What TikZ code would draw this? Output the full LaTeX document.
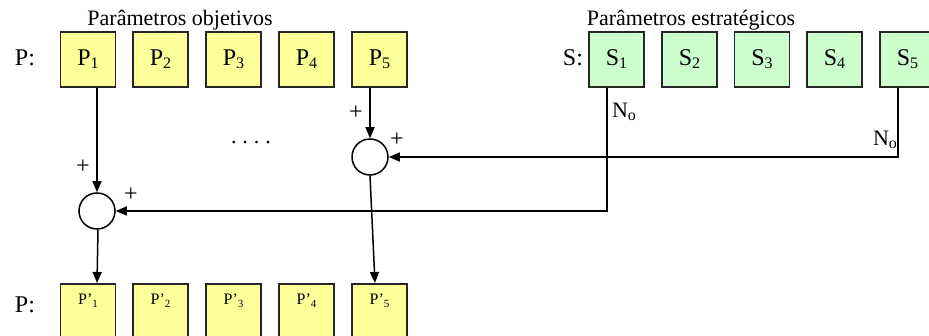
\documentclass[tikz,border=0pt]{standalone}
\usepackage{fontspec}
\setmainfont{Liberation Serif}
\usetikzlibrary{arrows.meta}
\definecolor{pyel}{RGB}{255,255,153}
\definecolor{sgrn}{RGB}{204,255,204}
\newcommand{\sbx}[1]{\raisebox{-0.28ex}{\fontsize{16}{16}\selectfont #1}}
\newcommand{\sbs}[1]{\raisebox{-0.28ex}{\fontsize{11}{11}\selectfont #1}}
\begin{document}
\begin{tikzpicture}[x=1pt,y=-1pt,
  pbox/.style={draw=black!85,line width=1.8pt,fill=pyel,minimum width=55pt,minimum height=55pt,inner sep=0pt},
  sbox/.style={pbox,fill=sgrn},
  qbox/.style={draw=black!85,line width=1.8pt,fill=pyel,minimum width=55pt,minimum height=60pt,inner sep=0pt,anchor=north},
  blab/.style={font=\fontsize{24}{24}\selectfont,inner sep=0pt,anchor=base},
  qlab/.style={font=\fontsize{16}{16}\selectfont,inner sep=0pt,anchor=base},
  sumc/.style={draw=black,line width=1.5pt,circle,minimum size=36pt,inner sep=0pt,fill=white},
  lab/.style={font=\fontsize{22}{22}\selectfont,inner sep=0pt},
  pl/.style={font=\fontsize{24}{24}\selectfont,inner sep=0pt},
  arr/.style={line width=1.5pt,-{Triangle[length=11pt,width=9pt]}},
  ln/.style={line width=1.5pt}]
\clip (0,0) rectangle (929,336);
\fill[white] (0,0) rectangle (929,336);
% titles
\node[lab] (t1) at (180,20) {Parâmetros objetivos};
\node[lab] (t2) at (691,20) {Parâmetros estratégicos};
% P row
\node[lab,font=\fontsize{24}{24}\selectfont] (pl1) at (25,58) {P:};
\node[pbox] (p1) at (88,59.5) {};
\node[pbox] (p2) at (160.5,59.5) {};
\node[pbox] (p3) at (233.5,59.5) {};
\node[pbox] (p4) at (306.5,59.5) {};
\node[pbox] (p5) at (379.5,59.5) {};
\foreach \i in {1,...,5}{\node[blab] at ([yshift=-6pt]p\i.center) {P\sbx{\i}};}
% S row
\node[lab,font=\fontsize{24}{24}\selectfont] (sl1) at (573,58) {S:};
\node[sbox] (s1) at (616.5,59.5) {};
\node[sbox] (s2) at (689.5,59.5) {};
\node[sbox] (s3) at (762,59.5) {};
\node[sbox] (s4) at (834.5,59.5) {};
\node[sbox] (s5) at (907.5,59.5) {};
\foreach \i in {1,...,5}{\node[blab] at ([yshift=-6pt]s\i.center) {S\sbx{\i}};}
% bottom row
\node[lab,font=\fontsize{24}{24}\selectfont] (pl2) at (25,305) {P:};
\node[qbox] (q1) at (88,283) {};
\node[qbox] (q2) at (160.5,283) {};
\node[qbox] (q3) at (233.5,283) {};
\node[qbox] (q4) at (306.5,283) {};
\node[qbox] (q5) at (379.5,283) {};
\foreach \i in {1,...,5}{\node[qlab] at ([yshift=-22pt]q\i.north) {P’\sbs{\i}};}
% summing junctions
\node[sumc] (c1) at (97,211) {};
\node[sumc] (c2) at (370,157) {};
\coordinate (k1) at (607,211);
\coordinate (k2) at (898,157);
% connectors
\draw[arr] (c1 |- p1.south) -- (c1.north);
\draw[arr] (c2 |- p5.south) -- (c2.north);
\draw[arr] (k2 |- s5.south) -- (k2) -- (c2.east);
\draw[arr] (k1 |- s1.south) -- (k1) -- (c1.east);
\draw[arr] ([xshift=1pt]c1.south) -- ([xshift=9pt]q1.north);
\draw[arr] (c2.south) -- ([xshift=-4.5pt]q5.north);
% labels
\node[lab] (n1) at (624,112) {N\sbx{o}};
\node[lab] (n2) at (885,140) {N\sbx{o}};
\node[pl] (a1) at (356,113) {+};
\node[pl] (a2) at (397,140) {+};
\node[pl] (a3) at (83,167) {+};
\node[pl] (a4) at (131,195) {+};
\node[lab] (dots) at (251,143) {.\hspace{6pt}.\hspace{6pt}.\hspace{6pt}.};
\end{tikzpicture}
\end{document}
